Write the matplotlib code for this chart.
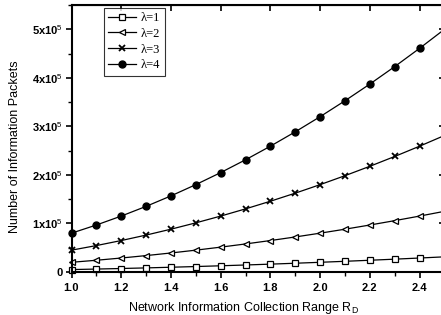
import matplotlib
matplotlib.use("Agg")
import matplotlib.pyplot as plt
from matplotlib.ticker import MultipleLocator, FixedLocator

R = [1.0, 1.1, 1.2, 1.3, 1.4, 1.5, 1.6, 1.7, 1.8, 1.9, 2.0, 2.1, 2.2, 2.3, 2.4, 2.5]
lam1 = [5000, 6050, 7200, 8450, 9800, 11250, 12800, 14450, 16200, 18050, 20000, 22050, 24200, 26450, 28800, 31250]
lam2 = [20000, 24200, 28800, 33800, 39200, 45000, 51200, 57800, 64800, 72200, 80000, 88200, 96800, 105800, 115200, 125000]
lam3 = [45000, 54450, 64800, 76050, 88200, 101250, 115200, 130050, 145800, 162450, 180000, 198450, 217800, 238050, 259200, 281250]
lam4 = [80000, 96800, 115200, 135200, 156800, 180000, 204800, 231200, 259200, 288800, 320000, 352800, 387200, 423200, 460800, 500000]
labels = ["λ=1", "λ=2", "λ=3", "λ=4"]
xticks = [1.0, 1.2, 1.4, 1.6, 1.8, 2.0, 2.2, 2.4]
xticklabels = ["1.0", "1.2", "1.4", "1.6", "1.8", "2.0", "2.2", "2.4"]
yticks = [0, 100000, 200000, 300000, 400000, 500000]
yticklabels = ["0", r"1x10$^5$", r"2x10$^5$", r"3x10$^5$", r"4x10$^5$", r"5x10$^5$"]

plt.rcParams['font.family'] = ['Liberation Sans', 'DejaVu Sans']
plt.rcParams['mathtext.fontset'] = 'custom'
plt.rcParams['mathtext.rm'] = 'Liberation Sans'
plt.rcParams['mathtext.bf'] = 'Liberation Sans:bold'

fig = plt.figure(figsize=(4.41, 3.15), dpi=100)
ax = fig.add_axes([71.5/441, 1-272/315, 373/441, 267/315])

ax.plot(R, lam1, '-', color='black', lw=0.9, marker='s', ms=4, mfc='white', mec='black', mew=0.9, label=labels[0], clip_on=False)
ax.plot(R, lam2, '-', color='black', lw=0.9, marker='<', ms=5, mfc='white', mec='black', mew=0.9, label=labels[1], clip_on=False)
ax.plot(R, lam3, '-', color='black', lw=0.9, marker='x', ms=5, mec='black', mew=1.3, label=labels[2], clip_on=False)
ax.plot(R, lam4, '-', color='black', lw=0.9, marker='o', ms=5, mfc='black', mec='black', label=labels[3], clip_on=False)

ax.set_xlim(1.0, 2.5)
ax.set_ylim(0, 550000)
ax.xaxis.set_major_locator(FixedLocator(xticks))
ax.xaxis.set_minor_locator(MultipleLocator(0.1))
ax.set_xticklabels(xticklabels, fontweight='bold', fontsize=8)
ax.set_yticks(yticks)
ax.set_yticklabels(yticklabels, fontweight='bold', fontsize=8)
ax.yaxis.set_minor_locator(MultipleLocator(50000))

ax.tick_params(axis='x', which='major', direction='out', length=4, width=1.2, pad=4)
ax.tick_params(axis='y', which='major', direction='out', length=4, width=1.2, pad=2)
ax.tick_params(axis='both', which='minor', direction='out', length=3, width=1.0)
for s in ax.spines.values():
    s.set_linewidth(1.5)

# inward ticks on top and right
ax2 = ax.secondary_xaxis('top')
ax2.set_xticks(xticks[1:])
ax2.tick_params(direction='in', length=4, width=1.2)
ax2.set_xticklabels([])
ax3 = ax.secondary_yaxis('right')
ax3.set_yticks(yticks)
ax3.tick_params(direction='in', length=4, width=1.2)
ax3.set_yticklabels([])

ax.set_xlabel(r"Network Information Collection Range R$_\mathrm{D}$", fontsize=9)
ax.set_ylabel("Number of Information Packets", fontsize=9)
ax.xaxis.set_label_coords(0.461, -0.105)
ax.yaxis.set_label_coords(-0.135, 0.47)

leg = ax.legend(loc='upper left', bbox_to_anchor=(0.087, 0.99), borderaxespad=0,
                frameon=True, fancybox=False, edgecolor='black', handlelength=2.2,
                handletextpad=0.4, labelspacing=0.3, borderpad=0.35,
                prop={'family': 'Liberation Serif', 'size': 9})
leg.get_frame().set_linewidth(0.8)

fig.savefig("out.png", dpi=100)
